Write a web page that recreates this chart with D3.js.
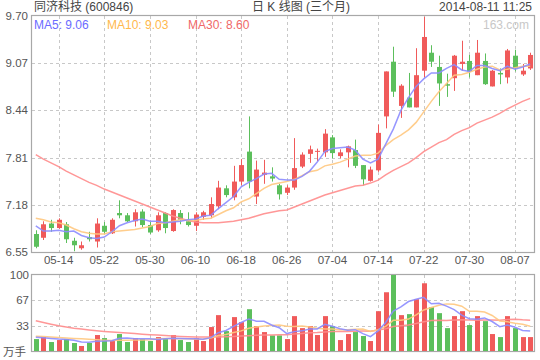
<!DOCTYPE html>
<html><head><meta charset="utf-8">
<script src="https://cdn.jsdelivr.net/npm/d3@7"></script>
<style>
body{margin:0;background:#fff;}
svg{display:block;font-family:"Liberation Sans",Arial,"Noto Sans CJK SC",sans-serif;}
</style>
</head><body>
<svg id="chart" width="540" height="360"></svg>
<script>
const dates = ["05-09","05-12","05-13","05-14","05-15","05-16","05-19","05-20","05-21","05-22","05-23","05-26","05-27","05-28","05-29","05-30","06-03","06-04","06-05","06-06","06-09","06-10","06-11","06-12","06-13","06-16","06-17","06-18","06-19","06-20","06-23","06-24","06-25","06-26","06-27","06-30","07-01","07-02","07-03","07-04","07-07","07-08","07-09","07-10","07-11","07-14","07-15","07-16","07-17","07-18","07-21","07-22","07-23","07-24","07-25","07-28","07-29","07-30","07-31","08-01","08-04","08-05","08-06","08-07","08-08","08-11"];
const open  = [6.79,6.74,6.93,6.87,6.92,6.70,6.60,6.75,6.69,6.90,6.80,7.07,7.04,6.96,7.09,6.91,6.84,7.07,6.83,7.07,6.96,6.90,7.02,7.04,7.16,7.40,7.28,7.49,7.89,7.29,7.58,7.56,7.44,7.34,7.41,7.69,7.86,7.89,7.88,8.08,7.83,7.88,7.91,7.71,7.50,7.64,8.36,9.09,8.50,8.61,8.48,8.97,9.21,9.02,8.79,8.87,9.06,9.10,8.91,9.10,8.76,8.94,8.88,9.17,8.92,9.00];
const high  = [6.84,6.96,6.98,7.00,6.95,6.74,6.69,6.82,7.00,6.95,7.00,7.24,7.07,7.12,7.12,6.95,7.08,7.08,7.12,7.11,7.08,7.08,7.10,7.28,7.50,7.44,7.70,7.79,8.36,7.77,7.78,7.68,7.46,7.44,8.07,7.88,7.97,7.93,8.19,8.11,7.92,7.97,8.05,7.71,7.69,8.25,8.96,9.29,8.79,8.94,9.27,9.69,9.31,9.17,8.93,9.18,9.37,9.18,9.38,9.20,8.98,9.00,9.26,9.25,9.06,9.21];
const low   = [6.60,6.71,6.82,6.86,6.67,6.56,6.58,6.69,6.61,6.79,6.79,7.00,6.95,6.89,6.88,6.79,6.82,6.80,6.82,6.92,6.89,6.83,6.98,7.00,7.12,7.28,7.24,7.44,7.40,7.19,7.46,7.49,7.25,7.31,7.38,7.67,7.74,7.76,7.82,7.80,7.80,7.68,7.67,7.44,7.49,7.62,8.20,8.62,8.34,8.48,8.48,8.88,9.02,8.50,8.62,8.70,8.97,8.88,8.91,8.78,8.76,8.79,8.80,8.96,8.90,8.98];
const close = [6.62,6.92,6.87,6.98,6.72,6.64,6.64,6.72,6.93,6.82,6.98,7.04,6.96,7.08,6.91,6.81,7.04,6.87,7.11,6.98,6.91,7.05,7.08,7.19,7.41,7.31,7.49,7.71,7.49,7.65,7.61,7.53,7.32,7.41,7.67,7.85,7.92,7.90,8.13,7.87,7.88,7.96,7.70,7.52,7.65,8.14,8.96,8.69,8.77,8.48,8.91,9.42,9.09,8.80,8.77,9.17,9.09,8.96,9.21,8.79,8.97,8.92,9.24,9.00,8.97,9.18];
const volume = [15.7,18.3,11.8,14.4,15.7,10.5,6.6,10.5,21,17,13.1,22.3,11.8,17,15.7,13.1,18.3,15.7,21,14.4,11.8,17,13.1,31.5,47.2,26.2,44.6,38,55,32.8,24.9,20.5,20.5,15.7,45.9,30.1,32.8,21,45.9,32.8,14.4,22.3,24.9,19.7,13.1,52.4,77.3,100,47.2,48.5,68.2,89.1,57.7,49.8,30.1,45.9,52.4,34.1,45.9,39.3,22.3,18.3,45.9,30.1,18.3,18.3];
const ma5  = [6.90,6.83,6.83,6.84,6.82,6.83,6.77,6.74,6.73,6.75,6.82,6.90,6.94,6.97,6.99,6.96,6.96,6.94,6.95,6.96,6.98,6.99,7.03,7.04,7.13,7.21,7.29,7.42,7.48,7.53,7.59,7.60,7.52,7.51,7.51,7.56,7.63,7.75,7.89,7.93,7.94,7.95,7.91,7.79,7.74,7.79,7.99,8.19,8.44,8.61,8.76,8.86,8.94,8.94,9.00,9.05,8.98,8.96,9.04,9.04,9.00,8.97,9.03,8.99,9.02,9.06];
const ma10 = [7.00,6.98,6.95,6.94,6.91,6.86,6.82,6.80,6.79,6.79,6.82,6.83,6.84,6.85,6.87,6.89,6.93,6.94,6.96,6.98,6.97,6.97,6.99,7.00,7.05,7.10,7.14,7.22,7.26,7.33,7.40,7.45,7.47,7.49,7.52,7.57,7.62,7.64,7.70,7.72,7.75,7.79,7.83,7.84,7.84,7.87,7.97,8.05,8.11,8.18,8.28,8.42,8.56,8.69,8.80,8.91,8.92,8.95,8.99,9.02,9.03,8.98,8.99,9.01,9.03,9.03];
const ma30 = [7.85,7.79,7.74,7.69,7.63,7.58,7.53,7.48,7.44,7.39,7.35,7.31,7.27,7.23,7.19,7.15,7.11,7.07,7.03,7.00,6.97,6.95,6.94,6.94,6.94,6.95,6.96,6.98,7.00,7.03,7.06,7.08,7.10,7.11,7.15,7.19,7.23,7.27,7.31,7.34,7.37,7.40,7.43,7.44,7.47,7.51,7.58,7.64,7.69,7.74,7.81,7.89,7.95,8.01,8.05,8.12,8.17,8.21,8.27,8.31,8.35,8.40,8.46,8.51,8.56,8.60];
const volMa5  = [18,17.5,16.6,15.7,15.2,14.1,11.8,11.5,12.9,13.1,13.6,16.8,17.0,16.2,16.0,16.0,15.2,16.0,16.8,16.5,16.2,16.0,15.5,17.6,24.1,27.0,32.5,37.5,42.2,39.3,39.1,34.2,30.7,22.9,25.5,26.5,29.0,29.1,35.1,32.5,29.4,27.3,28.1,22.8,18.9,26.5,37.5,52.5,58.0,65.1,68.2,70.6,62.1,62.7,59.0,54.5,47.2,42.5,41.7,43.5,38.8,32.0,34.3,31.2,27.0,26.2];
const volMa10 = [19.5,19,18.4,17.8,17.2,16.6,16,15.3,14.7,14.2,13.9,14.3,14.3,14.6,14.6,14.8,16.0,16.5,16.5,16.2,16.1,15.6,15.7,17.2,20.3,21.6,24.3,26.5,29.9,31.7,33.0,33.4,34.1,32.5,32.4,32.8,31.6,29.9,29.0,29.0,28.0,28.1,28.6,29.0,25.7,27.9,32.4,40.3,40.4,42.0,47.4,54.0,57.3,60.3,62.0,61.4,58.9,52.3,52.2,51.3,46.7,39.6,38.4,36.4,35.3,32.5];
const volMa30 = [39.7,37.5,35.3,33.2,31.5,30,28.8,27.7,26.7,25.8,25,24.3,23.6,22.9,22.2,21.5,20.9,20.3,19.7,19.2,18.7,18.4,18.3,18.3,18.5,18.8,19.2,19.6,20.1,20.7,21.0,21.1,21.4,21.4,22.4,23.1,24.0,24.3,25.1,25.7,25.7,25.7,26.1,26.2,26.1,27.5,29.4,32.2,33.1,34.2,36.1,38.5,40.0,40.6,40.0,40.7,41.0,40.8,40.5,40.7,40.7,40.6,41.4,41.9,41.0,40.6];
const priceTicks = [6.55,7.18,7.81,8.44,9.07,9.70];
const volTickValues = [100/3, 200/3, 100];
const volTickLabels = ["33","67","100"];
const xTickLabels = ["05-14","05-22","05-30","06-10","06-18","06-26","07-04","07-14","07-22","07-30","08-07"];
const stockName = "同济科技 (600846)";
const chartTitle = "日 K 线图 (三个月)";
const timeStamp = "2014-08-11 11:25";

const UP = "#f05a5a", DOWN = "#5cbf5c";
const C5 = "#8c8cff", C10 = "#ffc880", C30 = "#ff8c8c";
const L = 32, R = 534, PT = 16, PB = 252, VT = 275, VB = 351;

const svg = d3.select("#chart");
const x = d3.scaleBand().domain(dates).range([L, R]).padding(0);
const cx = d => x(d) + x.bandwidth() / 2;
const y = d3.scaleLinear().domain([6.55, 9.70]).range([PB, PT]);
const yv = d3.scaleLinear().domain([0, 100]).range([VB, VT]);

// grid
const grid = svg.append("g").attr("stroke", "#c8c8c8").attr("stroke-dasharray", "3,3").attr("stroke-width", 1);
priceTicks.slice(1, -1).forEach(t => {
  const yy = Math.round(y(t)) + 0.5;
  grid.append("line").attr("x1", L).attr("x2", R).attr("y1", yy).attr("y2", yy);
});
volTickValues.slice(0, 2).forEach(t => {
  const yy = Math.round(yv(t)) + 0.5;
  grid.append("line").attr("x1", L).attr("x2", R).attr("y1", yy).attr("y2", yy);
});
xTickLabels.forEach(d => {
  const xx = Math.round(cx(d)) + 0.5;
  grid.append("line").attr("x1", xx).attr("x2", xx).attr("y1", PT).attr("y2", PB);
  grid.append("line").attr("x1", xx).attr("x2", xx).attr("y1", VT).attr("y2", VB);
});

// frames
svg.append("rect").attr("x", L - 0.5).attr("y", PT - 0.5).attr("width", R - L + 1).attr("height", PB - PT + 1)
  .attr("fill", "none").attr("stroke", "#a8a8a8").attr("stroke-width", 1.2);
svg.append("rect").attr("x", L - 0.5).attr("y", VT - 0.5).attr("width", R - L + 1).attr("height", VB - VT + 1)
  .attr("fill", "none").attr("stroke", "#a8a8a8").attr("stroke-width", 1.2);

// texts
const txt = svg.append("g").attr("font-size", 12).attr("fill", "#444");
txt.append("text").attr("x", 34).attr("y", 11).text(stockName);
txt.append("text").attr("x", 301).attr("y", 11).attr("text-anchor", "middle").text(chartTitle);
txt.append("text").attr("x", 532).attr("y", 11).attr("text-anchor", "end").text(timeStamp);

const yl = svg.append("g").attr("font-size", 11.5).attr("fill", "#555").attr("text-anchor", "end");
priceTicks.forEach(t => {
  yl.append("text").attr("x", 28).attr("y", y(t) + 4).text(t.toFixed(2));
});
volTickValues.forEach((t, i) => {
  yl.append("text").attr("x", 29).attr("y", yv(t) + 4).text(volTickLabels[i]);
});
yl.append("text").attr("x", 26).attr("y", VB + 5).text("万手");

const xl = svg.append("g").attr("font-size", 11.5).attr("fill", "#555").attr("text-anchor", "middle");
xTickLabels.forEach(d => {
  xl.append("text").attr("x", cx(d)).attr("y", PB + 12).text(d);
});

// candles
const bw = 5;
const cg = svg.append("g");
dates.forEach((d, i) => {
  const up = close[i] >= open[i];
  const col = up ? UP : DOWN;
  const xc = Math.round(cx(d)) + 0.5;
  cg.append("line").attr("x1", xc).attr("x2", xc).attr("y1", y(high[i])).attr("y2", y(low[i]))
    .attr("stroke", col).attr("stroke-width", 1);
  const top = y(Math.max(open[i], close[i])), bot = y(Math.min(open[i], close[i]));
  cg.append("rect").attr("x", xc - bw / 2).attr("y", top).attr("width", bw).attr("height", Math.max(1, bot - top))
    .attr("fill", col);
});

// volume bars
const vg = svg.append("g");
dates.forEach((d, i) => {
  const up = close[i] >= open[i];
  const xc = Math.round(cx(d)) + 0.5;
  vg.append("rect").attr("x", xc - bw / 2).attr("y", yv(volume[i])).attr("width", bw)
    .attr("height", VB - yv(volume[i])).attr("fill", up ? UP : DOWN);
});

// MA lines
const lineP = d3.line().x((v, i) => cx(dates[i])).y(v => y(v)).curve(d3.curveLinear);
const lineV = d3.line().x((v, i) => cx(dates[i])).y(v => yv(v)).curve(d3.curveLinear);
[[ma30, C30], [ma10, C10], [ma5, C5]].forEach(([arr, c]) => {
  svg.append("path").attr("d", lineP(arr)).attr("fill", "none").attr("stroke", c).attr("stroke-width", 1.5).attr("stroke-opacity", 0.9);
});
[[volMa30, C30], [volMa10, C10], [volMa5, C5]].forEach(([arr, c]) => {
  svg.append("path").attr("d", lineV(arr)).attr("fill", "none").attr("stroke", c).attr("stroke-width", 1.5).attr("stroke-opacity", 0.9);
});

// legend
const lg = svg.append("g").attr("font-size", 12);
lg.append("text").attr("x", 34).attr("y", 29).attr("fill", "#6b6bff").text("MA5: " + ma5[ma5.length - 1].toFixed(2));
lg.append("text").attr("x", 107).attr("y", 29).attr("fill", "#ffb84d").text("MA10: " + ma10[ma10.length - 1].toFixed(2));
lg.append("text").attr("x", 188).attr("y", 29).attr("fill", "#f06868").text("MA30: " + ma30[ma30.length - 1].toFixed(2));
lg.append("text").attr("x", 529).attr("y", 29).attr("fill", "#c8c8c8").attr("text-anchor", "end").text("163.com");
</script>
</body></html>
